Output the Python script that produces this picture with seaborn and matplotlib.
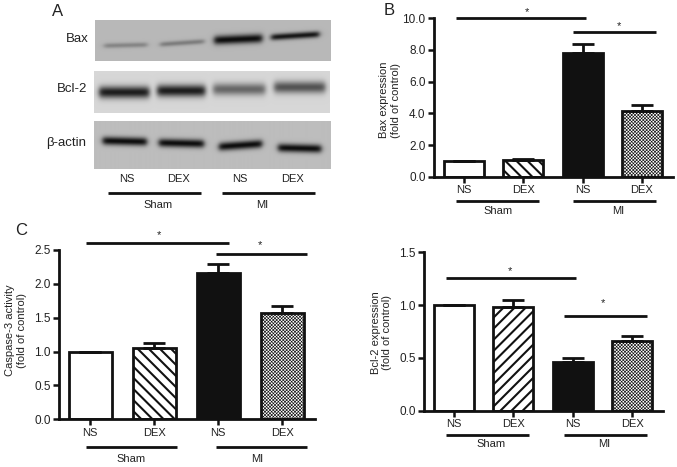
import matplotlib
matplotlib.use("Agg")
import matplotlib.pyplot as plt
import numpy as np
import seaborn as sns

groups = ["Sham NS", "Sham DEX", "MI NS", "MI DEX"]
tick_labels = ["NS", "DEX", "NS", "DEX"]

bax_values = [1.0, 1.05, 7.8, 4.15]
bax_err = [0, 0.05, 0.6, 0.35]
casp_values = [1.0, 1.06, 2.16, 1.57]
casp_err = [0, 0.06, 0.13, 0.11]
bcl_values = [1.0, 0.98, 0.46, 0.66]
bcl_err = [0, 0.07, 0.04, 0.05]

# band darkness in the blots, one per lane
bax_bands = [0.3, 0.35, 1.0, 0.95]
bcl_bands = [0.92, 0.92, 0.55, 0.65]
actin_bands = [1.0, 1.0, 1.0, 1.0]

W, H = 677, 467

sns.set_theme(style="ticks")
plt.rcParams["font.family"] = ["Liberation Sans", "DejaVu Sans"]
plt.rcParams["hatch.linewidth"] = 1.5

fig = plt.figure(figsize=(W / 100, H / 100), dpi=100)

# overlay in pixel coords for the blots, group lines and text
over = fig.add_axes([0, 0, 1, 1], zorder=5)
over.set_xlim(0, W)
over.set_ylim(H, 0)
over.axis("off")


def bar_panel(left, right, top, bottom, centers, bar_w, values, err, ymax, yticks, fmt, hatch, ylabel, ylab_x, ylab_y):
    ax = fig.add_axes([left / W, 1 - bottom / H, (right - left) / W, (bottom - top) / H])
    step = (centers[3] - centers[0]) / 3
    sns.barplot(x=groups, y=values, ax=ax, width=bar_w / step, color="white", saturation=1, errorbar=None)
    fills = ["white", "white", "#111111", "white"]
    hatches = [None, hatch, None, "xxxxxxxxxx"]
    for p, f, h in zip(ax.patches, fills, hatches):
        p.set_facecolor(f)
        p.set_edgecolor("#111111")
        p.set_linewidth(2)
        if h:
            p.set_hatch(h)
    ax.patches[3].set_hatch_linewidth(0.45)
    ax.errorbar(range(4), values, yerr=[np.zeros(4), err], fmt="none", ecolor="#111111",
                elinewidth=2, capsize=8, capthick=2, zorder=1)
    ax.set_xlim((left - centers[0]) / step, (right - centers[0]) / step)
    ax.set_ylim(0, ymax)
    ax.set_yticks(yticks)
    ax.set_yticklabels([fmt % t for t in yticks], fontsize=8.5, color="#222222")
    ax.set_xticks(range(4))
    ax.set_xticklabels(tick_labels, fontsize=8, color="#222222")
    ax.tick_params(axis="both", length=4, width=1.8, color="#111111", pad=2)
    ax.patch.set_alpha(0)
    for s in ["left", "bottom"]:
        ax.spines[s].set_linewidth(2)
        ax.spines[s].set_color("#111111")
    sns.despine(ax=ax)
    over.text(ylab_x, ylab_y, ylabel, rotation=90, ha="center", va="center", fontsize=8,
              linespacing=1.2, color="#222222")
    return ax


def hline(x0, x1, y, lw=2.0):
    over.plot([x0, x1], [y, y], color="#111111", lw=lw, solid_capstyle="butt")


def lab(x, y, s, size=8, ha="center"):
    over.text(x, y, s, ha=ha, va="center", fontsize=size, color="#222222")


def blot(x0, x1, y0, y1, bg, darkness, spans, ycs, thick, tilt):
    gy, gx = np.mgrid[y0:y1:0.5, x0:x1:0.5]
    img = np.full(gx.shape, bg, dtype=float)
    shade = np.zeros(gx.shape)
    for d, (a, b), yc, t, tl in zip(darkness, spans, ycs, thick, tilt):
        mid = (a + b) / 2
        yy = gy - yc + tl * (gx - mid) / (b - a)
        across = np.exp(-(yy / t) ** 2)
        along = 1 / (1 + np.exp((a - gx) / 1.5)) * 1 / (1 + np.exp((gx - b) / 1.5))
        shade = np.maximum(shade, d * across * along)
    img = img * (1 - shade) + 0.05 * shade
    over.imshow(img, cmap="gray", vmin=0, vmax=1, extent=[x0, x1, y1, y0], aspect="auto",
                interpolation="bilinear", zorder=1)


# panel A
blot(95, 331, 20, 61, 0.72, bax_bands,
     [(104, 147), (160, 204), (214, 262), (271, 319)], [45, 42.7, 39, 35.5], [2.5, 2.5, 4.5, 3.2], [1, 3, 2, 3])
blot(94, 330, 71, 113, 0.84, bcl_bands,
     [(99, 149), (157, 205), (213, 265), (274, 325)], [92, 90.5, 89, 87], [6, 6, 6, 6], [0, 0, 0, 0])
blot(93.5, 330, 121, 169, 0.74, actin_bands,
     [(102, 146), (158, 203), (218, 261), (277, 320)], [141, 143, 145, 148], [4.2, 4.2, 4.2, 4.2], [-1, -1, 3, -1])
over.set_xlim(0, W)
over.set_ylim(H, 0)

lab(89, 39, "Bax", 9.5, "right")
lab(87, 89, "Bcl-2", 9.5, "right")
lab(86, 143, "β-actin", 9.5, "right")
for x, s in zip([127, 178, 240, 292], tick_labels):
    lab(x, 179, s)
hline(108, 201, 192.7)
hline(222, 315, 192.7)
lab(158, 204.7, "Sham")
lab(262, 204.7, "MI")
lab(58, 12, "A", 12)
lab(389, 10.7, "B", 12)
lab(21, 230.7, "C", 12)

# panel B
bar_panel(434, 672.7, 18.3, 176.7, [464, 523, 582.7, 642], 40, bax_values, bax_err, 10,
          [0, 2, 4, 6, 8, 10], "%.1f", "\\\\\\", "Bax expression\n(fold of control)", 390, 100)
hline(456, 585.7, 18.3)
hline(573, 656, 32.3)
lab(526.7, 12.5, "*")
lab(619, 26, "*")
hline(456, 539, 200.7)
hline(573, 656, 200.7)
lab(498, 211, "Sham")
lab(618, 211, "MI")

# panel C
bar_panel(59.3, 315, 250, 419.3, [90, 154, 218, 282], 43, casp_values, casp_err, 2.5,
          [0, 0.5, 1, 1.5, 2, 2.5], "%.1f", "\\\\\\", "Caspase-3 activity\n(fold of control)", 16, 330)
hline(85.7, 229, 243.3)
hline(215.7, 306.7, 253.7)
lab(159, 235, "*")
lab(260, 245, "*")
hline(85.7, 176.7, 447.3)
hline(215.7, 306.7, 447.3)
lab(131, 459, "Sham")
lab(257, 459, "MI")

# panel D
bar_panel(424.3, 662.7, 252.3, 410.7, [454, 513.3, 572.7, 632], 40, bcl_values, bcl_err, 1.5,
          [0, 0.5, 1, 1.5], "%.1f", "///", "Bcl-2 expression\n(fold of control)", 381.7, 332.5)
hline(446, 576, 278)
hline(564, 646.7, 316)
lab(510.3, 271, "*")
lab(602.7, 303, "*")
hline(446, 529, 434.7)
hline(564, 646.7, 434.7)
lab(490.7, 444, "Sham")
lab(604, 444, "MI")

fig.savefig("out.png", dpi=100)
